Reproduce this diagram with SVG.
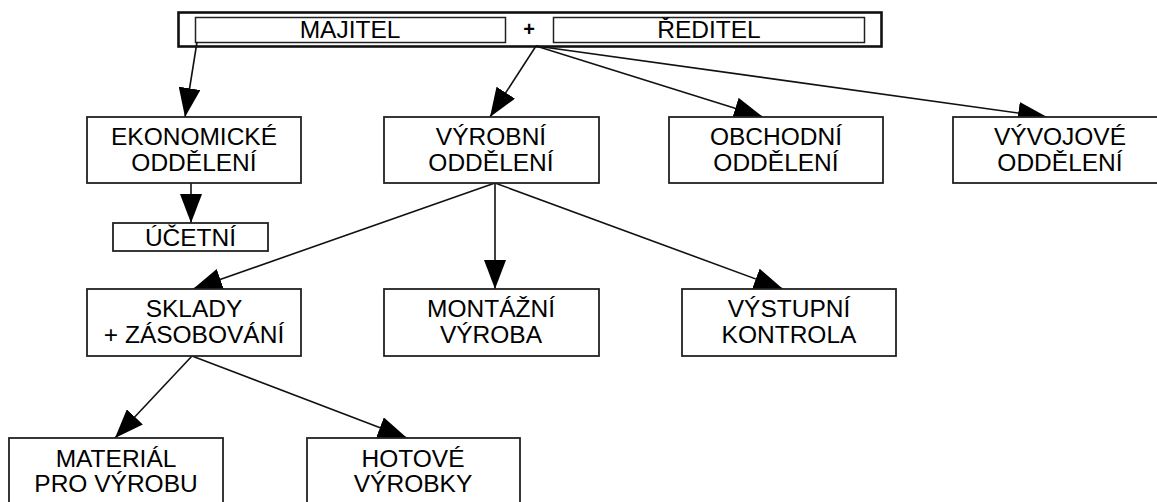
<svg xmlns="http://www.w3.org/2000/svg" width="1157" height="502" viewBox="0 0 1157 502">
<style>
.box{fill:#fff;stroke:#222;stroke-width:1.8}
.ibox{fill:#fff;stroke:#222;stroke-width:1.5}
.outer{fill:#fff;stroke:#111;stroke-width:2.6}
.t{font-family:"Liberation Sans",Arial,sans-serif;font-size:24.5px;fill:#000;text-anchor:middle}
.plus{font-family:"Liberation Sans",Arial,sans-serif;font-size:20px;font-weight:bold;fill:#000;text-anchor:middle}
.c{stroke:#111;stroke-width:1.6;fill:none;marker-end:url(#ah)}
</style>
<defs>
<marker id="ah" viewBox="0 0 29 22" refX="29" refY="11" markerWidth="29" markerHeight="22" markerUnits="userSpaceOnUse" orient="auto">
<path d="M0,0 L29,11 L0,22 z" fill="#000"/>
</marker>
</defs>
<rect width="1157" height="502" fill="#fff"/>
<g id="top">
<rect class="outer" x="178.5" y="12.5" width="703" height="34"/>
<g id="majitel">
<rect class="ibox" x="195.5" y="17.5" width="310" height="25"/>
<text class="t" x="350" y="37.5">MAJITEL</text>
</g>
<text class="plus" x="529" y="36">+</text>
<g id="reditel">
<rect class="ibox" x="553.5" y="17.5" width="311" height="25"/>
<text class="t" x="709" y="37.5">ŘEDITEL</text>
</g>
</g>
<g id="connectors">
<line class="c" x1="197" y1="42" x2="185" y2="117"/>
<line class="c" x1="536" y1="46" x2="490" y2="117"/>
<line class="c" x1="536" y1="46" x2="763" y2="117"/>
<line class="c" x1="536" y1="46" x2="1047" y2="117"/>
<line class="c" x1="191" y1="183" x2="191" y2="223"/>
<line class="c" x1="495" y1="183" x2="193" y2="289"/>
<line class="c" x1="495" y1="183" x2="495" y2="289"/>
<line class="c" x1="495" y1="183" x2="783" y2="289"/>
<line class="c" x1="192" y1="356" x2="115" y2="438"/>
<line class="c" x1="192" y1="356" x2="407" y2="438"/>
</g>
<g id="ekonomicke">
<rect class="box" x="87" y="117" width="214" height="66"/>
<text class="t" x="194" y="145">EKONOMICKÉ</text>
<text class="t" x="194" y="171">ODDĚLENÍ</text>
</g>
<g id="ucetni">
<rect class="box" x="113" y="223" width="155" height="28"/>
<text class="t" x="190.5" y="246">ÚČETNÍ</text>
</g>
<g id="vyrobni">
<rect class="box" x="384" y="117" width="215" height="66"/>
<text class="t" x="491" y="145">VÝROBNÍ</text>
<text class="t" x="491" y="171">ODDĚLENÍ</text>
</g>
<g id="obchodni">
<rect class="box" x="669" y="117" width="214" height="66"/>
<text class="t" x="776" y="145">OBCHODNÍ</text>
<text class="t" x="776" y="171">ODDĚLENÍ</text>
</g>
<g id="vyvojove">
<rect class="box" x="953" y="117" width="214" height="66"/>
<text class="t" x="1060" y="145">VÝVOJOVÉ</text>
<text class="t" x="1060" y="171">ODDĚLENÍ</text>
</g>
<g id="sklady">
<rect class="box" x="87" y="289" width="214" height="67"/>
<text class="t" x="194" y="317">SKLADY</text>
<text class="t" x="194" y="343">+ ZÁSOBOVÁNÍ</text>
</g>
<g id="montazni">
<rect class="box" x="384" y="289" width="215" height="67"/>
<text class="t" x="491" y="317">MONTÁŽNÍ</text>
<text class="t" x="491" y="343">VÝROBA</text>
</g>
<g id="vystupni">
<rect class="box" x="682" y="289" width="214" height="67"/>
<text class="t" x="789" y="317">VÝSTUPNÍ</text>
<text class="t" x="789" y="343">KONTROLA</text>
</g>
<g id="material">
<rect class="box" x="9" y="438" width="214" height="70"/>
<text class="t" x="116" y="467">MATERIÁL</text>
<text class="t" x="116" y="492">PRO VÝROBU</text>
</g>
<g id="hotove">
<rect class="box" x="307" y="438" width="213" height="70"/>
<text class="t" x="413" y="467">HOTOVÉ</text>
<text class="t" x="413" y="492">VÝROBKY</text>
</g>
</svg>
